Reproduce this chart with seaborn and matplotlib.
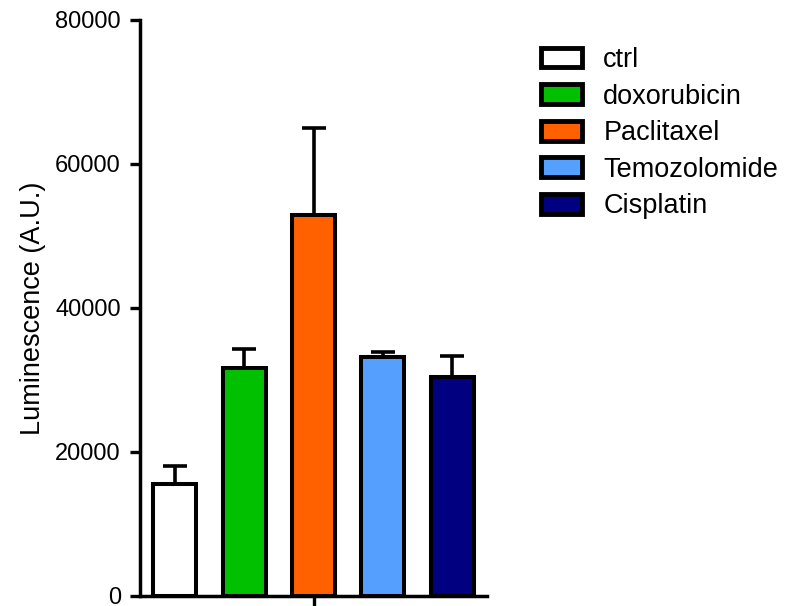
import matplotlib
matplotlib.use("Agg")
import matplotlib.pyplot as plt
import seaborn as sns
import pandas as pd
import numpy as np
from matplotlib.patches import Patch

treatments = ["ctrl", "doxorubicin", "Paclitaxel", "Temozolomide", "Cisplatin"]
means = [15500, 31700, 52900, 33200, 30400]
errors = [2500, 2600, 12100, 700, 2900]
colors = ["#FFFFFF", "#00C000", "#FF6000", "#55A0FF", "#000080"]
y_ticks = [0, 20000, 40000, 60000, 80000]

sns.set_style("ticks")
plt.rcParams['font.family'] = ['Liberation Sans', 'DejaVu Sans']
plt.rcParams['text.color'] = 'black'
plt.rcParams['axes.labelcolor'] = 'black'

df = pd.DataFrame({"treatment": treatments, "value": means})

fig = plt.figure(figsize=(7.9, 6.06), dpi=100)
ax = fig.add_axes([140/790, 10/606, (487-140)/790, (596-20)/606])

sns.barplot(data=df, x="treatment", y="value", hue="treatment",
            palette=dict(zip(treatments, colors)), order=treatments,
            hue_order=treatments, edgecolor="black", linewidth=2.9,
            width=0.62, saturation=1, legend=False, errorbar=None, ax=ax, zorder=3)

xpos = np.arange(len(treatments))
ax.errorbar(xpos, means, yerr=[np.zeros(len(errors)), errors], fmt="none",
            ecolor="black", elinewidth=2.6, capsize=8.5, capthick=2.6, zorder=2)

ax.set_xlim(-0.5, 4.5)
ax.set_ylim(0, 80000)
ax.set_yticks(y_ticks)
ax.set_yticklabels([str(t) for t in y_ticks])
ax.set_xticks([2])
ax.set_xticklabels([""])
ax.set_xlabel("")
ax.set_ylabel("Luminescence (A.U.)", fontsize=19.5, labelpad=7, color="black")
ax.tick_params(axis="both", direction="out", length=7.2, width=2.4, labelsize=17,
               pad=6.5, colors="black")
for side in ["top", "right"]:
    ax.spines[side].set_visible(False)
for side in ["left", "bottom"]:
    ax.spines[side].set_linewidth(2.5)
    ax.spines[side].set_color("black")
    ax.spines[side].set_zorder(4)

leg_handles = [Patch(facecolor=c, edgecolor="black", linewidth=3.5) for c in colors]
leg = fig.legend(leg_handles, treatments, loc="upper left",
                 bbox_to_anchor=(541/790, 1 - 47/606), frameon=False,
                 fontsize=19.5, handlelength=1.5, handleheight=0.75,
                 handletextpad=0.8, labelspacing=0.39, borderpad=0, borderaxespad=0)
for t in leg.get_texts():
    t.set_color("black")

fig.savefig("out.png", dpi=100)
